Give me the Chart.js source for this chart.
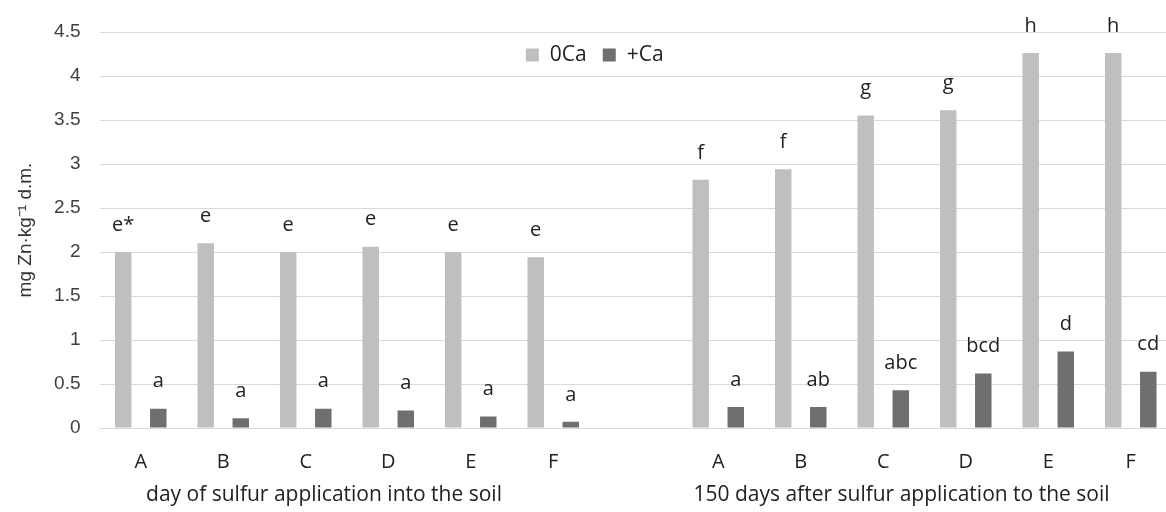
<!DOCTYPE html>
<html>
<head>
<meta charset="utf-8">
<script src="https://cdn.jsdelivr.net/npm/chart.js@4"></script>
<style>
    html, body { margin: 0; padding: 0; background: #fff; overflow: hidden; }
    #wrap { position: relative; width: 1172px; height: 512px; }
</style>
</head>
<body>
<div id="wrap"><canvas id="zn-chart" width="1172" height="512"></canvas></div>
<script>
// ---- chart data ----
const categories = ['A', 'B', 'C', 'D', 'E', 'F', '', 'A', 'B', 'C', 'D', 'E', 'F'];
const zeroCa = [2.0, 2.1, 2.0, 2.06, 2.0, 1.94, null, 2.82, 2.94, 3.55, 3.61, 4.26, 4.26];
const plusCa = [0.22, 0.11, 0.22, 0.20, 0.13, 0.07, null, 0.24, 0.24, 0.43, 0.62, 0.87, 0.64];
const zeroCaLetters = ['e*', 'e', 'e', 'e', 'e', 'e', '', 'f', 'f', 'g', 'g', 'h', 'h'];
const plusCaLetters = ['a', 'a', 'a', 'a', 'a', 'a', '', 'a', 'ab', 'abc', 'bcd', 'd', 'cd'];
const groupTitles = ['day of sulfur application into the soil', '150 days after sulfur application to the soil'];
const groupRanges = [[0, 5], [7, 12]];
const yTitle = 'mg Zn·kg⁻¹ d.m.';

const LIGHT = '#bfbfbf';
const DARK = '#6f6f6f';
const GRID = '#d9d9d9';
const TEXT_FONT = '"Open Sans", sans-serif';

// significance letters above each bar
const letterPlugin = {
    id: 'letters',
    afterDatasetsDraw(chart) {
        const ctx = chart.ctx;
        const sets = [zeroCaLetters, plusCaLetters];
        ctx.save();
        ctx.font = '20px ' + TEXT_FONT;
        ctx.fillStyle = '#222';
        ctx.textAlign = 'center';
        ctx.textBaseline = 'middle';
        sets.forEach((letters, di) => {
            chart.getDatasetMeta(di).data.forEach((bar, i) => {
                if (!letters[i]) return;
                ctx.fillText(letters[i], bar.x, bar.y - 27);
            });
        });
        ctx.restore();
    }
};

// group captions under the A..F ticks
const groupTitlePlugin = {
    id: 'groupTitles',
    afterDraw(chart) {
        const ctx = chart.ctx;
        const x = chart.scales.x;
        ctx.save();
        ctx.font = '21px ' + TEXT_FONT;
        ctx.fillStyle = '#222';
        ctx.textAlign = 'center';
        ctx.textBaseline = 'middle';
        groupRanges.forEach((r, gi) => {
            const cx = (x.getPixelForValue(r[0]) + x.getPixelForValue(r[1])) / 2 - 23;
            ctx.fillText(groupTitles[gi], cx, chart.chartArea.bottom + 67);
        });
        ctx.restore();
    }
};

// legend drawn inside the plot, near the top
const legendPlugin = {
    id: 'insideLegend',
    afterDraw(chart) {
        const ctx = chart.ctx;
        const area = chart.chartArea;
        const box = 13, gap = 11, itemGap = 16;
        ctx.save();
        ctx.font = '21px ' + TEXT_FONT;
        ctx.textBaseline = 'middle';
        ctx.textAlign = 'left';
        const items = chart.data.datasets.map(ds => ({ text: ds.label, color: ds.backgroundColor, w: ctx.measureText(ds.label).width }));
        const total = items.reduce((s, it) => s + box + gap + it.w, 0) + itemGap * (items.length - 1);
        let xPos = (area.left + area.right) / 2 - 41 - total / 2;
        const yMid = area.top + 23;
        items.forEach(it => {
            ctx.fillStyle = it.color;
            ctx.fillRect(xPos, yMid - box / 2, box, box);
            xPos += box + gap;
            ctx.fillStyle = '#222';
            ctx.fillText(it.text, xPos, yMid);
            xPos += it.w + itemGap;
        });
        ctx.restore();
    }
};

new Chart(document.getElementById('zn-chart').getContext('2d'), {
    type: 'bar',
    data: {
        labels: categories,
        datasets: [
            { label: '0Ca', data: zeroCa, backgroundColor: LIGHT, categoryPercentage: 0.85, barPercentage: 0.47 },
            { label: '+Ca', data: plusCa, backgroundColor: DARK, categoryPercentage: 0.85, barPercentage: 0.47 }
        ]
    },
    options: {
        responsive: false,
        animation: false,
        layout: { padding: { top: 32, left: 0, right: 0, bottom: 0 } },
        plugins: {
            legend: { display: false },
            tooltip: { enabled: false }
        },
        scales: {
            x: {
                grid: { display: false },
                border: { display: true, color: GRID },
                ticks: {
                    padding: 14,
                    color: '#222',
                    font: { family: 'Open Sans', size: 20 },
                    autoSkip: false,
                    maxRotation: 0
                },
                afterFit(scale) { scale.height = 84; }
            },
            y: {
                min: 0,
                max: 4.5,
                grid: { color: GRID, drawTicks: false },
                border: { display: false },
                ticks: {
                    stepSize: 0.5,
                    padding: 19,
                    color: '#404040',
                    font: { family: 'Liberation Sans', size: 19 },
                    callback: v => String(v)
                },
                title: {
                    display: true,
                    text: yTitle,
                    color: '#333',
                    font: { family: 'Liberation Sans', size: 19 },
                    padding: { top: 14, bottom: 0 }
                },
                afterFit(scale) { scale.width = 99.5; }
            }
        }
    },
    plugins: [letterPlugin, groupTitlePlugin, legendPlugin]
});
</script>
</body>
</html>
